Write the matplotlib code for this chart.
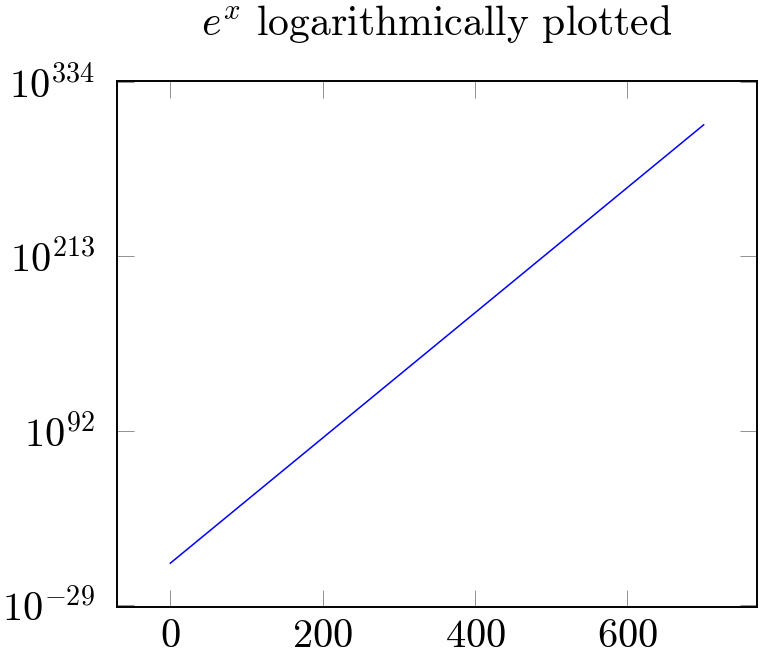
import matplotlib
matplotlib.use("Agg")
import matplotlib.pyplot as plt
from matplotlib.ticker import FixedLocator, FixedFormatter, NullLocator

plt.rcParams['font.family'] = 'serif'
plt.rcParams['font.serif'] = ['cmr10']
plt.rcParams['mathtext.fontset'] = 'cm'
plt.rcParams['axes.formatter.use_mathtext'] = True

# Data (e^x from 0 to 700; y stored as log10 exponents,
# since 10^334 is beyond float range the axis is drawn in log10 space)
x_values = [0, 700]
y_exponents = [0, 304]

x_ticks = [0, 200, 400, 600]
y_tick_exponents = [-29, 92, 213, 334]
title = r"$e^x$ logarithmically plotted"

fig = plt.figure(figsize=(7.63, 6.54), dpi=100)
ax = fig.add_axes([117/763, 1 - 607/654, (757 - 117)/763, (607 - 81)/654])

ax.plot(x_values, y_exponents, color=(0, 0, 1), linewidth=1.1)
ax.set_xlim(-70, 770)
ax.set_ylim(-30.4, 334.4)

ax.xaxis.set_major_locator(FixedLocator(x_ticks))
ax.xaxis.set_major_formatter(FixedFormatter([f"${t}$" for t in x_ticks]))
ax.yaxis.set_major_locator(FixedLocator(y_tick_exponents))
ax.yaxis.set_major_formatter(FixedFormatter([f"$10^{{{e}}}$" for e in y_tick_exponents]))
ax.yaxis.set_minor_locator(NullLocator())
ax.xaxis.set_minor_locator(NullLocator())

ax.tick_params(which='major', direction='in', length=12, width=0.6,
               color='#808080', labelsize=29, top=True, right=True)
ax.tick_params(axis='y', pad=16)
ax.tick_params(axis='x', pad=9)
for s in ax.spines.values():
    s.set_linewidth(1.4)

ax.set_title(title, fontsize=30, pad=33)

fig.savefig("out.png", dpi=100)
